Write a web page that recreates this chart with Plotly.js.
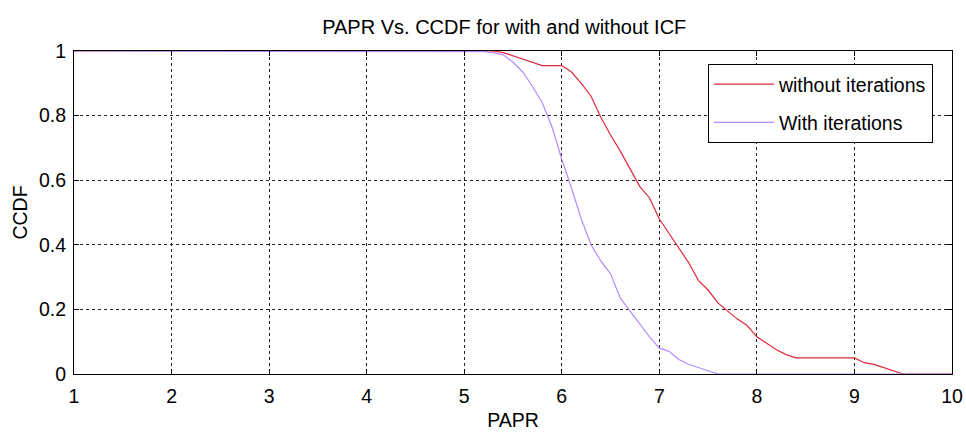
<!DOCTYPE html>
<html>
<head>
<meta charset="utf-8">
<script src="https://cdn.plot.ly/plotly-3.0.1.min.js"></script>
<style>html,body{margin:0;padding:0;background:#fff;}#chart{width:966px;height:436px;}</style>
</head>
<body>
<div id="chart"></div>
<script>
// PAPR values (dB) and CCDF values
const paprWithout = [1, 5.2, 5.3, 5.4, 5.5, 5.6, 5.7, 5.8, 5.9, 6.0, 6.1, 6.2, 6.3, 6.4, 6.5, 6.6, 6.7, 6.8, 6.9, 7.0,
  7.1, 7.2, 7.3, 7.4, 7.5, 7.6, 7.7, 7.8, 7.9, 8.0, 8.1, 8.2, 8.3, 8.4, 9.0, 9.1, 9.2, 9.3, 9.4, 9.5, 10];
const ccdfWithout = [1, 1, 1, 0.995, 0.985, 0.975, 0.965, 0.955, 0.955, 0.955, 0.935, 0.90, 0.86, 0.795, 0.74, 0.69, 0.635, 0.58, 0.545, 0.48,
  0.435, 0.39, 0.345, 0.29, 0.26, 0.22, 0.195, 0.17, 0.15, 0.115, 0.095, 0.075, 0.06, 0.05, 0.05, 0.035, 0.03, 0.02, 0.01, 0, 0];

const paprWith = [1, 5.1, 5.2, 5.3, 5.4, 5.5, 5.6, 5.7, 5.8, 5.9, 6.0, 6.1, 6.2, 6.3, 6.4, 6.5, 6.6, 6.7, 6.8, 6.9, 7.0,
  7.1, 7.2, 7.3, 7.4, 7.5, 7.6, 10];
const ccdfWith = [1, 1, 0.998, 0.995, 0.988, 0.965, 0.935, 0.89, 0.84, 0.765, 0.665, 0.575, 0.48, 0.40, 0.35, 0.31, 0.235, 0.195, 0.155, 0.115, 0.08,
  0.07, 0.045, 0.03, 0.02, 0.01, 0, 0];

const seriesNames = ["without iterations", "With iterations"];
const xTicks = [1, 2, 3, 4, 5, 6, 7, 8, 9, 10];
const yTicks = [0, 0.2, 0.4, 0.6, 0.8, 1];
const yTickText = ["0", "0.2", "0.4", "0.6", "0.8", "1"];

const FONT = '"Liberation Sans", Arial, sans-serif';

const traces = [
  {x: paprWithout, y: ccdfWithout, name: seriesNames[0], type: 'scatter', mode: 'lines',
   line: {color: '#e0283c', width: 1.2}, legendgroup: 'a'},
  {x: paprWith, y: ccdfWith, name: seriesNames[1], type: 'scatter', mode: 'lines',
   line: {color: '#b48cff', width: 1.2}, legendgroup: 'b'}
];

const axisCommon = {
  showline: true, linecolor: '#000', linewidth: 1, mirror: 'ticks',
  ticks: 'inside', ticklen: 5, tickcolor: '#000', tickwidth: 1,
  showgrid: true, gridcolor: '#222', griddash: 'dot', gridwidth: 1,
  zeroline: false, tickfont: {family: FONT, size: 19.5, color: '#000'}
};

const layout = {
  width: 966, height: 436,
  margin: {l: 74, r: 14, t: 51, b: 62},
  paper_bgcolor: '#fff', plot_bgcolor: '#fff',
  font: {family: FONT, size: 19.5, color: '#000'},
  title: {text: 'PAPR Vs. CCDF for with and without ICF', font: {family: FONT, size: 20, color: '#000'},
          xref: 'container', x: 0.522, xanchor: 'center', yref: 'container', y: 0.938, yanchor: 'middle'},
  xaxis: Object.assign({}, axisCommon, {range: [1, 10], tickvals: xTicks, ticklabelstandoff: 5,
    title: {text: 'PAPR', font: {family: FONT, size: 19.5, color: '#000'}, standoff: 6}}),
  yaxis: Object.assign({}, axisCommon, {range: [0, 1], tickvals: yTicks, ticktext: yTickText, ticklabelstandoff: 3,
    title: {text: 'CCDF', font: {family: FONT, size: 19.5, color: '#000'}, standoff: 6}}),
  showlegend: true,
  legend: {x: 0.722, xanchor: 'left', y: 0.96, yanchor: 'top', bgcolor: '#fff', bordercolor: '#000', borderwidth: 1,
           font: {family: FONT, size: 19.5, color: '#000'}, traceorder: 'grouped', tracegroupgap: 10, itemwidth: 60}
};

Plotly.newPlot('chart', traces, layout, {staticPlot: true, displayModeBar: false});
</script>
</body>
</html>
